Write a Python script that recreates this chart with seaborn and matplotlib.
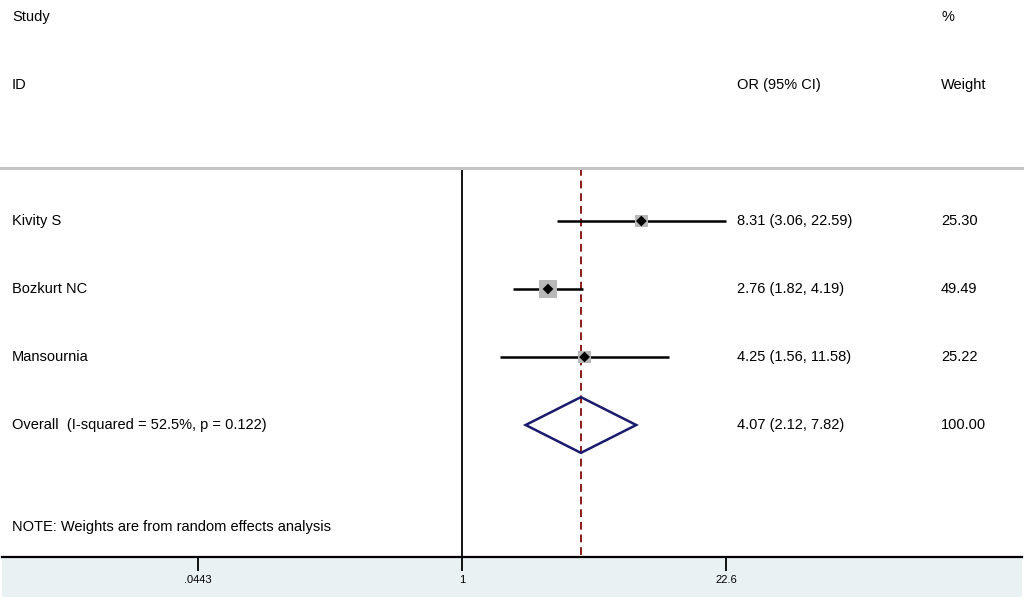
import matplotlib
matplotlib.use("Agg")
import matplotlib.pyplot as plt
import matplotlib.transforms as mtransforms
from matplotlib.patches import Rectangle, Polygon
import numpy as np
import pandas as pd
import seaborn as sns

# --- data ---
studies = ["Kivity S", "Bozkurt NC", "Mansournia"]
odds_ratio = [8.31, 2.76, 4.25]
ci_low = [3.06, 1.82, 1.56]
ci_high = [22.59, 4.19, 11.58]
weights = [25.30, 49.49, 25.22]

overall_label = "Overall  (I-squared = 52.5%, p = 0.122)"
overall_or = 4.07
overall_low = 2.12
overall_high = 7.82
overall_weight = 100.00

tick_values = [0.0443, 1, 22.6]
tick_labels = [".0443", "1", "22.6"]

sns.set_theme(style="white")
plt.rcParams["font.family"] = ["Liberation Sans", "DejaVu Sans"]

W, H = 1024, 602
fig = plt.figure(figsize=(W / 100, H / 100), dpi=100)

# light band under the axis (behind the axes)
fig.patches.append(Rectangle((2 / W, (H - 597) / H), 1020 / W, 40 / H,
                             transform=fig.transFigure, facecolor="#eaf1f2",
                             edgecolor="none", zorder=-5))

ax = fig.add_axes([2 / W, (H - 557) / H, 1020 / W, 557 / H])
ax.patch.set_alpha(0)
ax.set_zorder(2)

# log-x scale: pixel 462 is OR=1, ~84.7 px per log unit
px_per_log = 84.7
ax.set_xscale("log")
ax.set_xlim(np.exp((2 - 462) / px_per_log), np.exp((1022 - 462) / px_per_log))

# rows are 68 px apart, first header row at pixel 17
row_px = 68
ax.set_ylim((557 - 17) / row_px, -17 / row_px)

study_rows = [3, 4, 5]
overall_row = 6
note_row = 7.5

df = pd.DataFrame({"study": studies, "or": odds_ratio, "lo": ci_low,
                   "hi": ci_high, "w": weights, "row": study_rows})

# reference lines
ax.vlines(1, 2.22, 10, color="black", lw=1.3, zorder=2)
ax.vlines(overall_or, 2.22, 10, color="#8b1a1a", lw=1.4,
          linestyles=(0, (4, 2.5)), zorder=2)
fig.lines.append(plt.Line2D([0, 1], [(H - 168) / H] * 2, transform=fig.transFigure,
                            color="#c4c4c4", lw=2.2))

# CIs, weight boxes and point estimates
ax.hlines(df["row"], df["lo"], df["hi"], color="black", lw=1.8, zorder=3)
box_sizes = [(np.sqrt(w) * 1.85) ** 2 for w in weights]
ax.scatter(df["or"], df["row"], s=box_sizes, marker="s", color="#b8b8b8",
           edgecolor="none", zorder=3)
sns.scatterplot(data=df, x="or", y="row", marker="D", color="black", s=30,
                edgecolor="none", ax=ax, zorder=4, legend=False)

# overall diamond
half_h = 0.41
diamond = Polygon([[overall_low, overall_row], [overall_or, overall_row - half_h],
                   [overall_high, overall_row], [overall_or, overall_row + half_h]],
                  closed=True, facecolor="none", edgecolor="#1a1a6e", lw=1.8, zorder=4)
ax.add_patch(diamond)

# text columns
trans = mtransforms.blended_transform_factory(ax.transAxes, ax.transData)
def col(px):
    return (px - 2) / 1020

fs = 10.5
txt = dict(transform=trans, va="center", ha="left", fontsize=fs, color="black")
ax.text(col(12), 0, "Study", **txt)
ax.text(col(12), 1, "ID", **txt)
ax.text(col(941), 0, "%", **txt)
ax.text(col(737), 1, "OR (95% CI)", **txt)
ax.text(col(941), 1, "Weight", **txt)

for s, o, lo, hi, w, r in zip(studies, odds_ratio, ci_low, ci_high, weights, study_rows):
    ax.text(col(12), r, s, **txt)
    ax.text(col(737), r, f"{o:.2f} ({lo:.2f}, {hi:.2f})", **txt)
    ax.text(col(941), r, f"{w:.2f}", **txt)

ax.text(col(12), overall_row, overall_label, **txt)
ax.text(col(737), overall_row,
        f"{overall_or:.2f} ({overall_low:.2f}, {overall_high:.2f})", **txt)
ax.text(col(941), overall_row, f"{overall_weight:.2f}", **txt)
ax.text(col(12), note_row, "NOTE: Weights are from random effects analysis", **txt)

# axis styling
for side in ["top", "left", "right"]:
    ax.spines[side].set_visible(False)
ax.spines["bottom"].set_color("black")
ax.spines["bottom"].set_linewidth(1.6)
ax.set_xticks(tick_values)
ax.set_xticklabels(tick_labels)
ax.minorticks_off()
ax.tick_params(axis="x", direction="out", length=10, width=1.3, color="black",
               labelsize=8, labelcolor="black", pad=3, bottom=True)
ax.set_yticks([])
ax.set_xlabel("")
ax.set_ylabel("")

fig.savefig("out.png", dpi=100)
